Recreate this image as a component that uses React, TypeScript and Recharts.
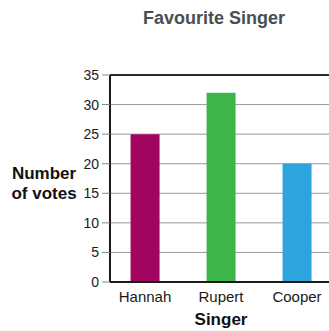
import { Bar, BarChart, CartesianGrid, Cell, ReferenceLine, XAxis, YAxis } from "recharts";

const singers = ["Hannah", "Rupert", "Cooper"];
const votes = [25, 32, 20];
const barColors = ["#a0065f", "#3db54a", "#2ea4de"];
const yTicks = [0, 5, 10, 15, 20, 25, 30, 35];

const data = singers.map((name, i) => ({ name, votes: votes[i] }));

const font = "'Liberation Sans', Arial, sans-serif";

export default function App() {
  return (
    <div style={{ position: "fixed", top: 0, left: 0, width: 329, height: 331, overflow: "hidden", background: "#fff", fontFamily: font }}>
      <BarChart width={345} height={331} data={data} margin={{ top: 75, right: 7, bottom: 0, left: 0 }} barCategoryGap="31%">
        <CartesianGrid vertical={false} stroke="#9a9a9a" strokeWidth={1} />
        <XAxis
          dataKey="name"
          height={49}
          tickSize={0}
          tickMargin={9}
          padding={{ left: -3, right: 3 }}
          axisLine={{ stroke: "#1a1a1a", strokeWidth: 2 }}
          tick={{ fontSize: 15, fill: "#1a1a1a", fontFamily: font }}
        />
        <YAxis
          width={110}
          domain={[0, 35]}
          ticks={yTicks}
          interval={0}
          tickSize={8}
          tickMargin={3}
          tickLine={{ stroke: "#888" }}
          axisLine={{ stroke: "#1a1a1a", strokeWidth: 2 }}
          tick={{ fontSize: 14, fill: "#1a1a1a", fontFamily: font }}
        />
        <ReferenceLine y={35} stroke="#2a2a2a" strokeWidth={2} />
        <Bar dataKey="votes" isAnimationActive={false}>
          {data.map((d, i) => (
            <Cell key={d.name} fill={barColors[i]} />
          ))}
        </Bar>
      </BarChart>
      <div style={{ position: "absolute", zIndex: 1, top: 9, left: 114, width: 200, textAlign: "center", fontSize: 18, lineHeight: "18px", fontWeight: 700, color: "#484e56" }}>
        Favourite Singer
      </div>
      <div style={{ position: "absolute", zIndex: 1, top: 164, left: 0, width: 88, textAlign: "center", fontSize: 17, lineHeight: "20px", fontWeight: 700, color: "#111" }}>
        Number
        <br />
        of votes
      </div>
      <div style={{ position: "absolute", zIndex: 1, top: 311, left: 171, width: 100, textAlign: "center", fontSize: 17, lineHeight: "17px", fontWeight: 700, color: "#111" }}>
        Singer
      </div>
    </div>
  );
}
